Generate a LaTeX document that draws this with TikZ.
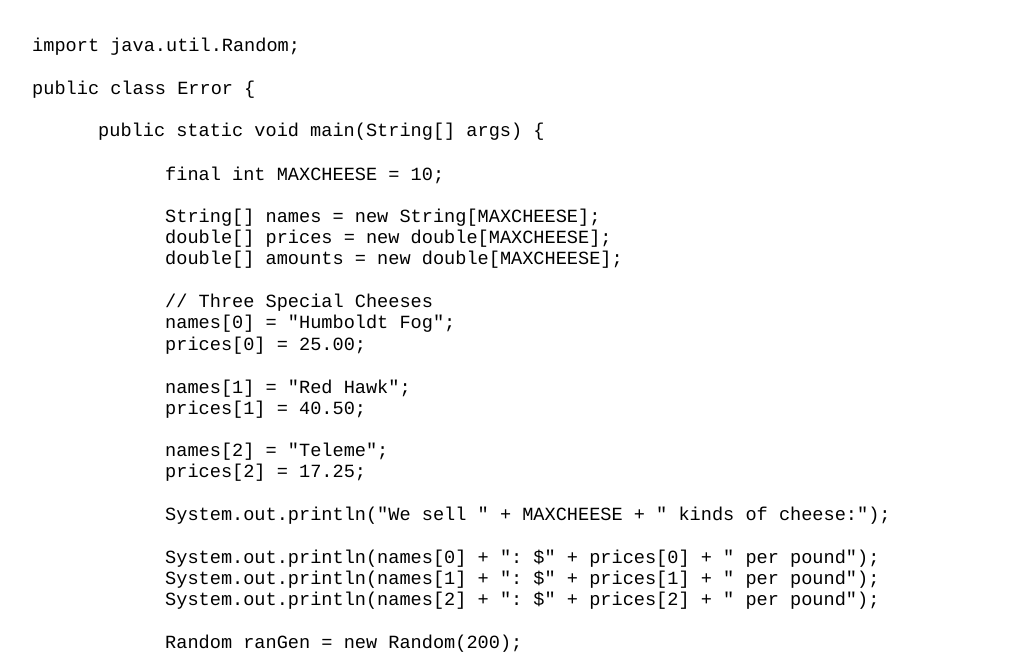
\documentclass[tikz,border=0pt]{standalone}
\usepackage{fontspec}
\setmonofont{Liberation Mono}
\begin{document}
\begin{tikzpicture}[x=1pt,y=-1pt,
  code/.style={anchor=base west,inner sep=0pt,font=\ttfamily\fontsize{18.6}{20}\selectfont,text=black}]
  \useasboundingbox[fill=white] (0,0) rectangle (1017,666);
  % Lines of the listing
  \node[code] (l1)  at (32,52)  {import java.util.Random;};
  \node[code] (l2)  at (32,95)  {public class Error \{};
  \node[code] (l3)  at (98,137) {public static void main(String[] args) \{};
  \node[code] (l4)  at (165,180) {final int MAXCHEESE = 10;};
  \node[code] (l5)  at (165,222) {String[] names = new String[MAXCHEESE];};
  \node[code] (l6)  at (165,243) {double[] prices = new double[MAXCHEESE];};
  \node[code] (l7)  at (165,264) {double[] amounts = new double[MAXCHEESE];};
  \node[code] (l8)  at (165,307) {// Three Special Cheeses};
  \node[code] (l9)  at (165,328) {names[0] = "Humboldt Fog";};
  \node[code] (l10) at (165,350) {prices[0] = 25.00;};
  \node[code] (l11) at (165,393) {names[1] = "Red Hawk";};
  \node[code] (l12) at (165,414) {prices[1] = 40.50;};
  \node[code] (l13) at (165,456) {names[2] = "Teleme";};
  \node[code] (l14) at (165,477) {prices[2] = 17.25;};
  \node[code] (l15) at (165,520) {System.out.println("We sell " + MAXCHEESE + " kinds of cheese:");};
  \node[code] (l16) at (165,563) {System.out.println(names[0] + ": \$" + prices[0] + " per pound");};
  \node[code] (l17) at (165,584) {System.out.println(names[1] + ": \$" + prices[1] + " per pound");};
  \node[code] (l18) at (165,605) {System.out.println(names[2] + ": \$" + prices[2] + " per pound");};
  \node[code] (l19) at (165,648) {Random ranGen = new Random(200);};
\end{tikzpicture}
\end{document}
